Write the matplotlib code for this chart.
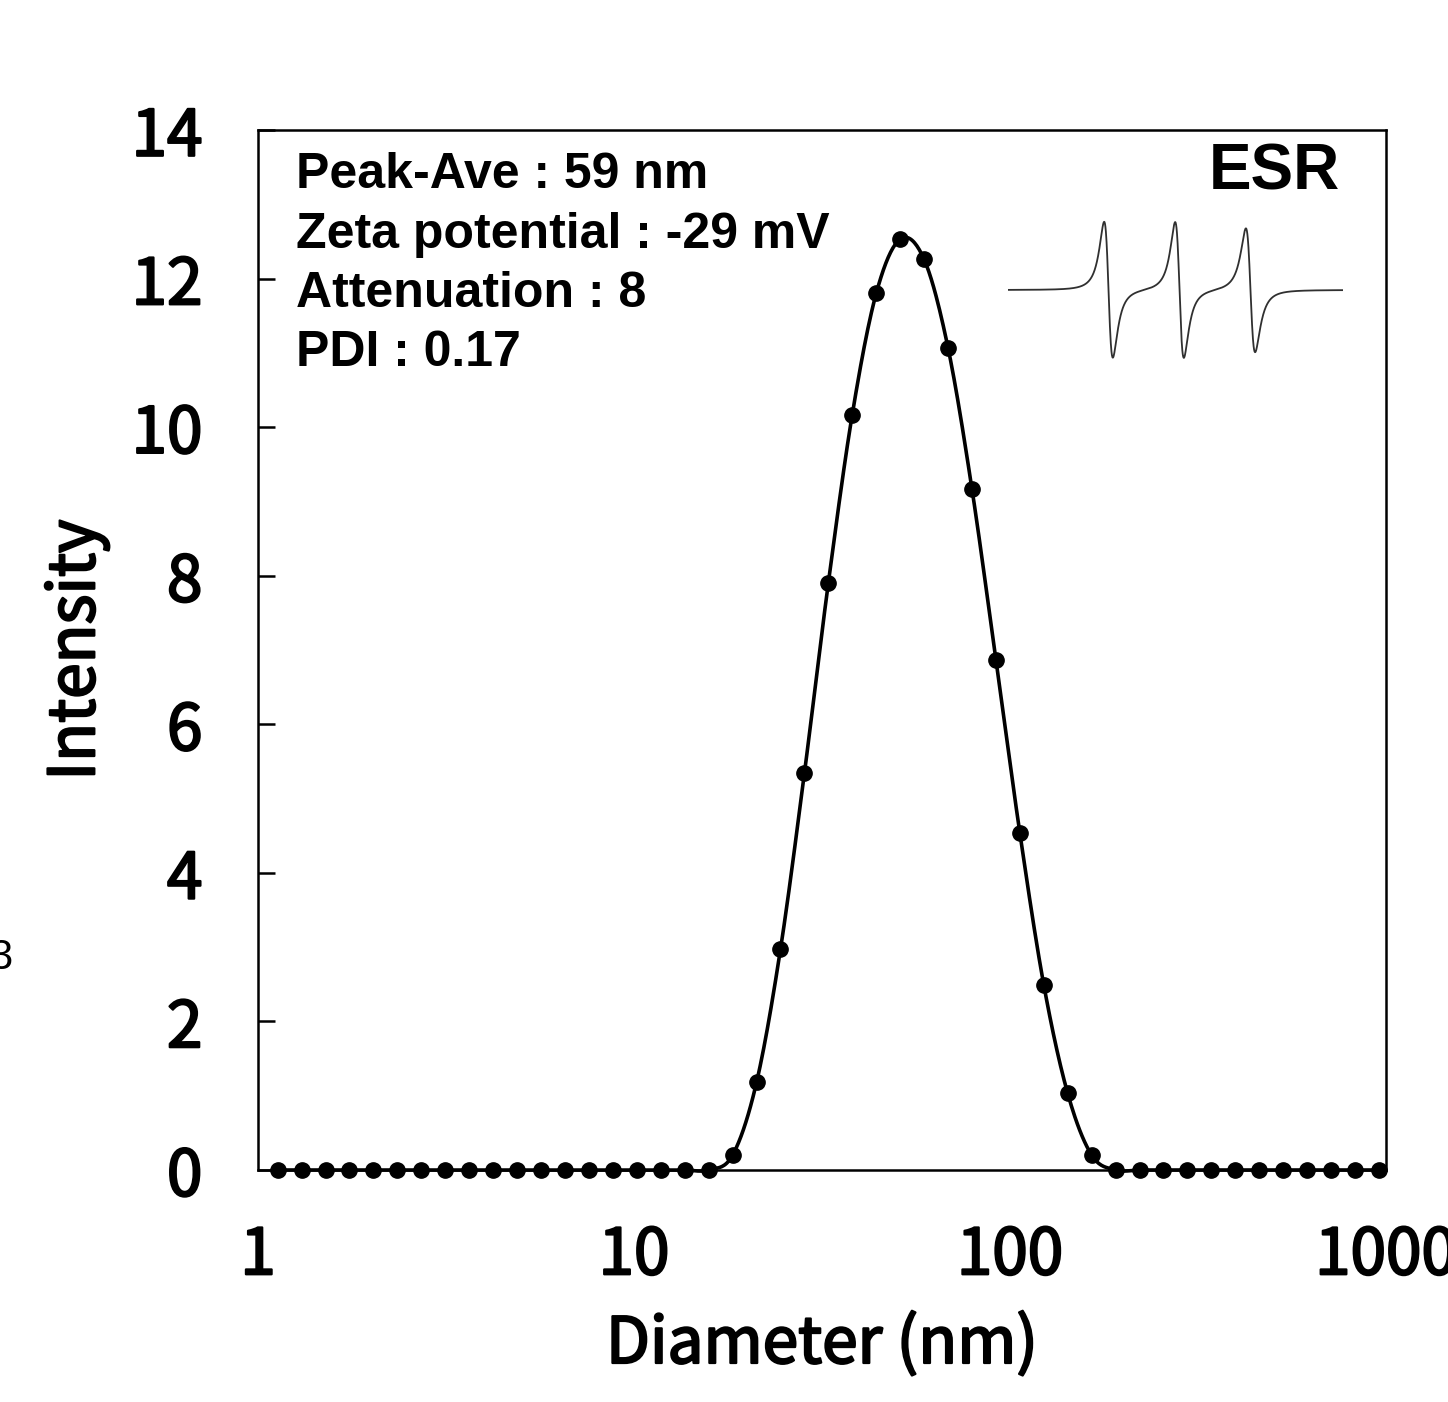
import numpy as np
import matplotlib
matplotlib.use("Agg")
from matplotlib import pyplot as plt
import matplotlib.patheffects as pe

# size distribution (DLS)
diameter_nm = [1.128, 1.306, 1.512, 1.751, 2.028, 2.349, 2.719, 3.149, 3.646, 4.221,
               4.888, 5.659, 6.553, 7.588, 8.786, 10.17, 11.78, 13.64, 15.79, 18.29,
               21.18, 24.52, 28.39, 32.87, 38.06, 44.07, 51.03, 59.08, 68.41, 79.21,
               91.73, 106.2, 123.0, 142.4, 164.9, 190.9, 221.1, 256.0, 296.4, 343.2,
               397.4, 460.2, 532.9, 617.0, 714.5, 827.3, 957.9]
intensity = [0, 0, 0, 0, 0, 0, 0, 0, 0, 0,
             0, 0, 0, 0, 0, 0, 0, 0, 0, 0.20,
             1.18, 2.97, 5.34, 7.90, 10.17, 11.80, 12.53, 12.26, 11.07, 9.17,
             6.87, 4.54, 2.49, 1.03, 0.20, 0, 0, 0, 0, 0,
             0, 0, 0, 0, 0, 0, 0]

info_lines = ["Peak-Ave : 59 nm", "Zeta potential : -29 mV", "Attenuation : 8", "PDI : 0.17"]
yticks = [0, 2, 4, 6, 8, 10, 12, 14]
xticks = [1, 10, 100, 1000]
xtick_labels = ["1", "10", "100", "1000"]

# ESR icon: three hyperfine lines (centre, height, half width)
esr_centers = [100.5, 171.5, 242.5]
esr_heights = [68, 68, 62]
esr_widths = [7.5, 7.5, 8.0]

jp = ["Noto Sans CJK JP", "DejaVu Sans"]
ar = ["Liberation Sans", "DejaVu Sans"]
thick = [pe.withStroke(linewidth=1.6, foreground="black")]


def smooth(xs, ys, n=20):
    # excel-like smoothed line (catmull-rom bezier) in log-x space
    lx = np.log10(xs)
    ys = np.asarray(ys, float)
    px = np.concatenate([[2*lx[0]-lx[1]], lx, [2*lx[-1]-lx[-2]]])
    py = np.concatenate([[ys[0]], ys, [ys[-1]]])
    outx, outy = [], []
    t = np.linspace(0, 1, n, endpoint=False)
    for i in range(1, len(px) - 2):
        x0, x3 = px[i], px[i+1]
        y0, y3 = py[i], py[i+1]
        x1 = x0 + (px[i+1] - px[i-1]) / 6
        y1 = y0 + (py[i+1] - py[i-1]) / 6
        x2 = x3 - (px[i+2] - px[i]) / 6
        y2 = y3 - (py[i+2] - py[i]) / 6
        b = [(1-t)**3, 3*(1-t)**2*t, 3*(1-t)*t**2, t**3]
        outx.append(b[0]*x0 + b[1]*x1 + b[2]*x2 + b[3]*x3)
        outy.append(b[0]*y0 + b[1]*y1 + b[2]*y2 + b[3]*y3)
    outx.append([px[-2]])
    outy.append([py[-2]])
    return 10**np.concatenate(outx), np.concatenate(outy)


fig = plt.figure(figsize=(14.48, 14.02), dpi=100)
ax = fig.add_axes([258/1448, 1 - 1170/1402, 1128/1448, 1040/1402])

cx, cy = smooth(diameter_nm, intensity)
ax.plot(cx, cy, color="black", lw=2.6, clip_on=False, zorder=3)
ax.plot(diameter_nm, intensity, "o", color="black", ms=11, clip_on=False, zorder=4)

ax.set_xscale("log")
ax.set_xlim(1, 1000)
ax.set_ylim(0, 14)
ax.set_xticks(xticks)
ax.set_xticklabels(xtick_labels)
ax.minorticks_off()
ax.set_yticks(yticks)
ax.tick_params(axis="both", direction="in", length=12, width=1.8, labelsize=46)
ax.tick_params(axis="y", pad=40)
ax.tick_params(axis="x", pad=38, length=0)
for lab in ax.get_xticklabels() + ax.get_yticklabels():
    lab.set_family(jp)
    lab.set_path_effects(thick)
for s in ax.spines.values():
    s.set_linewidth(1.8)

ax.set_xlabel("Diameter (nm)", family=jp, fontsize=46, labelpad=16, path_effects=thick)
ax.set_ylabel("Intensity", family=jp, fontsize=46, labelpad=16, path_effects=thick)

for i, line in enumerate(info_lines):
    fig.text(296/1448, 1 - (175 + 59.5*i)/1402, line, family=ar, fontweight="bold",
             fontsize=36, ha="left", va="center")

fig.text(1340/1448, 1 - 172/1402, "ESR", family=ar, fontweight="bold",
         fontsize=46, ha="right", va="center")

# ESR spectrum icon
ins = fig.add_axes([1008/1448, 1 - 365/1402, 335/1448, 150/1402])
ex = np.linspace(0, 335, 1500)
ey = np.zeros_like(ex)
for c, h, w in zip(esr_centers, esr_heights, esr_widths):
    u = (ex - c) / w
    ey += h * (-u / (1 + u**2)**2) / 0.3248
ins.plot(ex, ey, color="#303030", lw=1.3)
ins.set_xlim(0, 335)
ins.set_ylim(-75, 75)
ins.axis("off")

# cut-off label from the neighbouring panel
fig.text(13/1448, 1 - 958/1402, "3", family=ar, fontsize=30, ha="right", va="center")

fig.savefig("out.png", dpi=100)
